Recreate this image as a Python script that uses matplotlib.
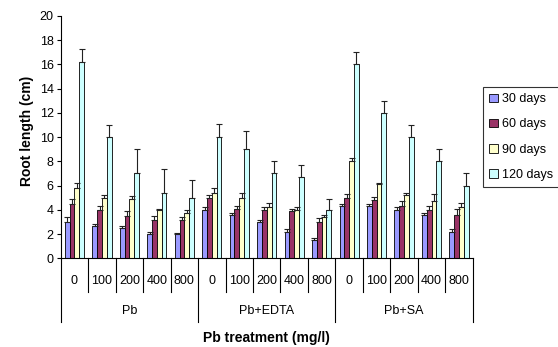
import numpy as np
import matplotlib.pyplot as plt

plt.rcParams['font.family'] = ['Liberation Sans', 'DejaVu Sans']

treatments = ['Pb', 'Pb+EDTA', 'Pb+SA']
doses = ['0', '100', '200', '400', '800']
series = ['30 days', '60 days', '90 days', '120 days']
colors = ['#9999FF', '#993366', '#FFFFCC', '#CCFFFF']

# root length (cm), 15 groups = 3 treatments x 5 doses
d30 = [3.0, 2.7, 2.5, 2.0, 2.0, 4.0, 3.6, 3.0, 2.2, 1.5, 4.3, 4.3, 4.0, 3.6, 2.2]
d60 = [4.5, 4.0, 3.5, 3.2, 3.2, 5.0, 4.1, 4.0, 3.9, 3.0, 5.0, 4.8, 4.3, 4.0, 3.6]
d90 = [5.8, 5.0, 4.9, 4.0, 3.7, 5.4, 5.0, 4.2, 4.0, 3.4, 8.0, 6.1, 5.2, 4.7, 4.2]
d120 = [16.2, 10.0, 7.0, 5.4, 5.0, 10.0, 9.0, 7.0, 6.7, 4.0, 16.0, 12.0, 10.0, 8.0, 6.0]

# standard errors (upper bars only)
e30 = [0.4, 0.1, 0.2, 0.2, 0.1, 0.2, 0.15, 0.15, 0.2, 0.2, 0.2, 0.2, 0.2, 0.15, 0.2]
e60 = [0.4, 0.3, 0.4, 0.3, 0.2, 0.2, 0.2, 0.2, 0.2, 0.3, 0.3, 0.3, 0.4, 0.3, 0.5]
e90 = [0.4, 0.2, 0.25, 0.1, 0.3, 0.4, 0.4, 0.4, 0.25, 0.2, 0.3, 0.15, 0.2, 0.6, 0.4]
e120 = [1.1, 1.0, 2.0, 2.0, 1.5, 1.1, 1.5, 1.0, 1.0, 0.9, 1.0, 1.0, 1.0, 1.0, 1.0]

values = [d30, d60, d90, d120]
errors = [e30, e60, e90, e120]

fig = plt.figure(figsize=(5.58, 3.47), dpi=100)
ax = fig.add_axes([0.1088, 0.2556, 0.7384, 0.6983])

x = np.arange(len(d30))
w = 0.175
for i in range(4):
    pos = x + (i - 1.5) * w
    ax.bar(pos, values[i], w, color=colors[i], edgecolor='black',
           linewidth=0.6, label=series[i], zorder=2)
    ax.errorbar(pos, values[i], yerr=[np.zeros(len(x)), errors[i]], fmt='none',
                ecolor='#222222', elinewidth=0.8, capsize=2.5, capthick=0.8, zorder=3)

ax.set_xlim(-0.5, 14.5)
ax.set_ylim(0, 20)
ax.set_yticks(range(0, 21, 2))
ax.tick_params(axis='y', labelsize=9, length=3, width=0.8, pad=2)
ax.set_xticks([])
for s in ['top', 'right']:
    ax.spines[s].set_visible(False)
ax.spines['left'].set_linewidth(0.8)
ax.spines['bottom'].set_linewidth(0.8)
fig.text(0.049, 0.622, 'Root length (cm)', rotation=90, ha='center', va='center',
         fontsize=10, fontweight='bold')

# two-level category axis
tr = ax.get_xaxis_transform()
for k in range(16):
    xb = k - 0.5
    bottom = -0.262 if k % 5 == 0 else -0.138
    ax.plot([xb, xb], [0, bottom], color='black', lw=0.8, transform=tr, clip_on=False)
for k in range(15):
    ax.text(k, -0.094, doses[k % 5], transform=tr, ha='center', va='center', fontsize=9)
for t, name in enumerate(treatments):
    ax.text(t * 5 + 2, -0.217, name, transform=tr, ha='center', va='center', fontsize=9)

fig.text(0.478, 0.026, 'Pb treatment (mg/l)', ha='center', va='center',
         fontsize=10, fontweight='bold')

leg = fig.legend(loc='upper left', bbox_to_anchor=(0.866, 0.749), fontsize=9,
                 frameon=True, fancybox=False, edgecolor='black',
                 handlelength=0.7, handleheight=0.7, handletextpad=0.3,
                 borderpad=0.5, labelspacing=1.05, borderaxespad=0)
leg.get_frame().set_linewidth(0.8)

fig.savefig('out.png', dpi=100)
